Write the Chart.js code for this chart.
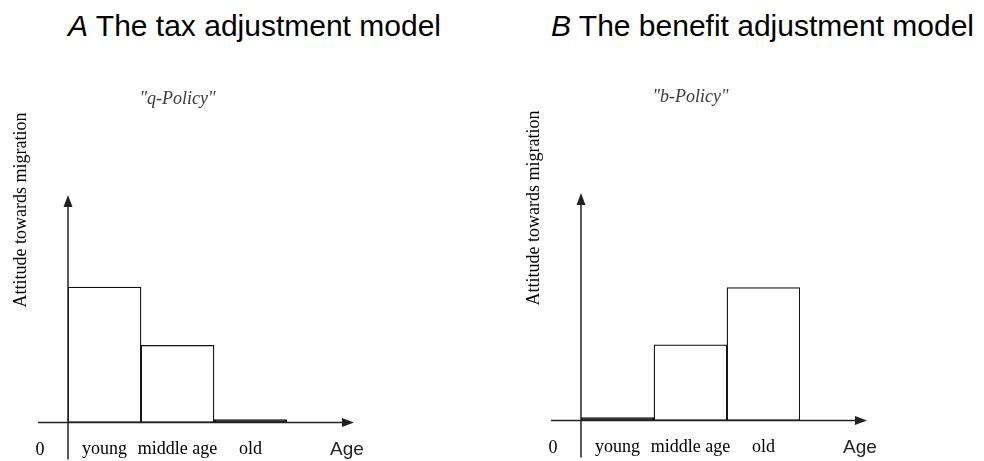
<!DOCTYPE html>
<html>
<head>
<meta charset="utf-8">
<script src="https://cdn.jsdelivr.net/npm/chart.js@4"></script>
<style>
  body { margin: 0; background: #fff; width: 984px; height: 461px; position: relative; overflow: hidden; }
  .heading { position: absolute; top: 11px; font-family: "Liberation Sans", Arial, sans-serif; font-size: 30px; line-height: 29px; color: #000; white-space: nowrap; }
  canvas { position: absolute; }
</style>
</head>
<body>
<div class="heading" style="left:68px"><i>A</i> The tax adjustment model</div>
<div class="heading" style="left:551px"><i>B</i> The benefit adjustment model</div>
<canvas id="chartA" width="420" height="418" style="left:0px; top:60px"></canvas>
<canvas id="chartB" width="444" height="418" style="left:500px; top:58px"></canvas>
<script>
// data (arbitrary units, axis runs 0..10)
const ageGroups = ['young', 'middle age', 'old'];
const taxPolicy = [5.95, 3.39, 0.12];
const benefitPolicy = [0.12, 3.32, 5.84];
const yMax = 10;

const axisTitle = 'Attitude towards migration';
const xEndLabel = 'Age';
const originLabel = '0';

const serif = '"Liberation Serif", "Times New Roman", serif';
const sans = '"Liberation Sans", Arial, sans-serif';

// axes with arrow heads, origin / Age labels and rotated y title
const axisDecor = {
    id: 'axisDecor',
    afterDatasetsDraw(chart) {
        const c = chart.ctx;
        const a = chart.chartArea;
        const x0 = a.left, y0 = a.bottom;
        c.save();
        c.strokeStyle = '#222';
        c.fillStyle = '#222';
        c.lineWidth = 1.5;

        // x axis
        c.beginPath();
        c.moveTo(x0 - 30, y0);
        c.lineTo(a.right + 58, y0);
        c.stroke();
        c.beginPath();
        c.moveTo(a.right + 67, y0);
        c.lineTo(a.right + 55, y0 - 4.5);
        c.lineTo(a.right + 55, y0 + 4.5);
        c.closePath();
        c.fill();

        // y axis
        c.beginPath();
        c.moveTo(x0, y0 + 37);
        c.lineTo(x0, a.top + 8);
        c.stroke();
        c.beginPath();
        c.moveTo(x0, a.top);
        c.lineTo(x0 - 4.5, a.top + 12);
        c.lineTo(x0 + 4.5, a.top + 12);
        c.closePath();
        c.fill();

        // labels
        c.textBaseline = 'alphabetic';
        c.textAlign = 'center';
        c.fillStyle = '#000';
        c.font = '18px ' + serif;
        c.fillText(originLabel, x0 - 28, y0 + 33);
        c.fillStyle = '#222';
        c.font = '19px ' + sans;
        c.fillText(xEndLabel, a.right + 60, y0 + 33);

        c.translate(x0 - 47, a.top + 15);
        c.rotate(-Math.PI / 2);
        c.textBaseline = 'middle';
        c.fillStyle = '#000';
        c.font = '18px ' + serif;
        c.fillText(axisTitle, 0, 0);
        c.restore();
    }
};

function buildPanel(id, values, subtitle, pad) {
    return new Chart(document.getElementById(id), {
        type: 'bar',
        data: {
            labels: ageGroups,
            datasets: [{
                data: values,
                // the near-zero bar shows as a solid line on the axis
                backgroundColor: ctx => (ctx.raw < 0.5 ? '#111' : '#fff'),
                borderColor: '#111',
                borderWidth: 1.3,
                borderSkipped: false,
                barPercentage: 1,
                categoryPercentage: 1
            }]
        },
        options: {
            responsive: false,
            animation: false,
            events: [],
            layout: { padding: pad },
            plugins: {
                legend: { display: false },
                tooltip: { enabled: false },
                title: {
                    display: true,
                    text: subtitle,
                    color: '#3a3a3a',
                    font: { family: serif, size: 18, style: 'italic', weight: 'normal' },
                    padding: { top: 28, bottom: 85.4 }
                }
            },
            scales: {
                x: {
                    grid: { display: false, drawTicks: false },
                    border: { display: false },
                    ticks: {
                        color: '#000',
                        padding: 16,
                        autoSkip: false,
                        maxRotation: 0,
                        minRotation: 0,
                        font: { family: serif, size: 18 }
                    }
                },
                y: {
                    display: false,
                    min: 0,
                    max: yMax
                }
            }
        },
        plugins: [axisDecor]
    });
}

buildPanel('chartA', taxPolicy, '"q-Policy"', { left: 68, right: 133, top: 0, bottom: 2 });
buildPanel('chartB', benefitPolicy, '"b-Policy"', { left: 81, right: 144, top: 0, bottom: 2 });
</script>
</body>
</html>
